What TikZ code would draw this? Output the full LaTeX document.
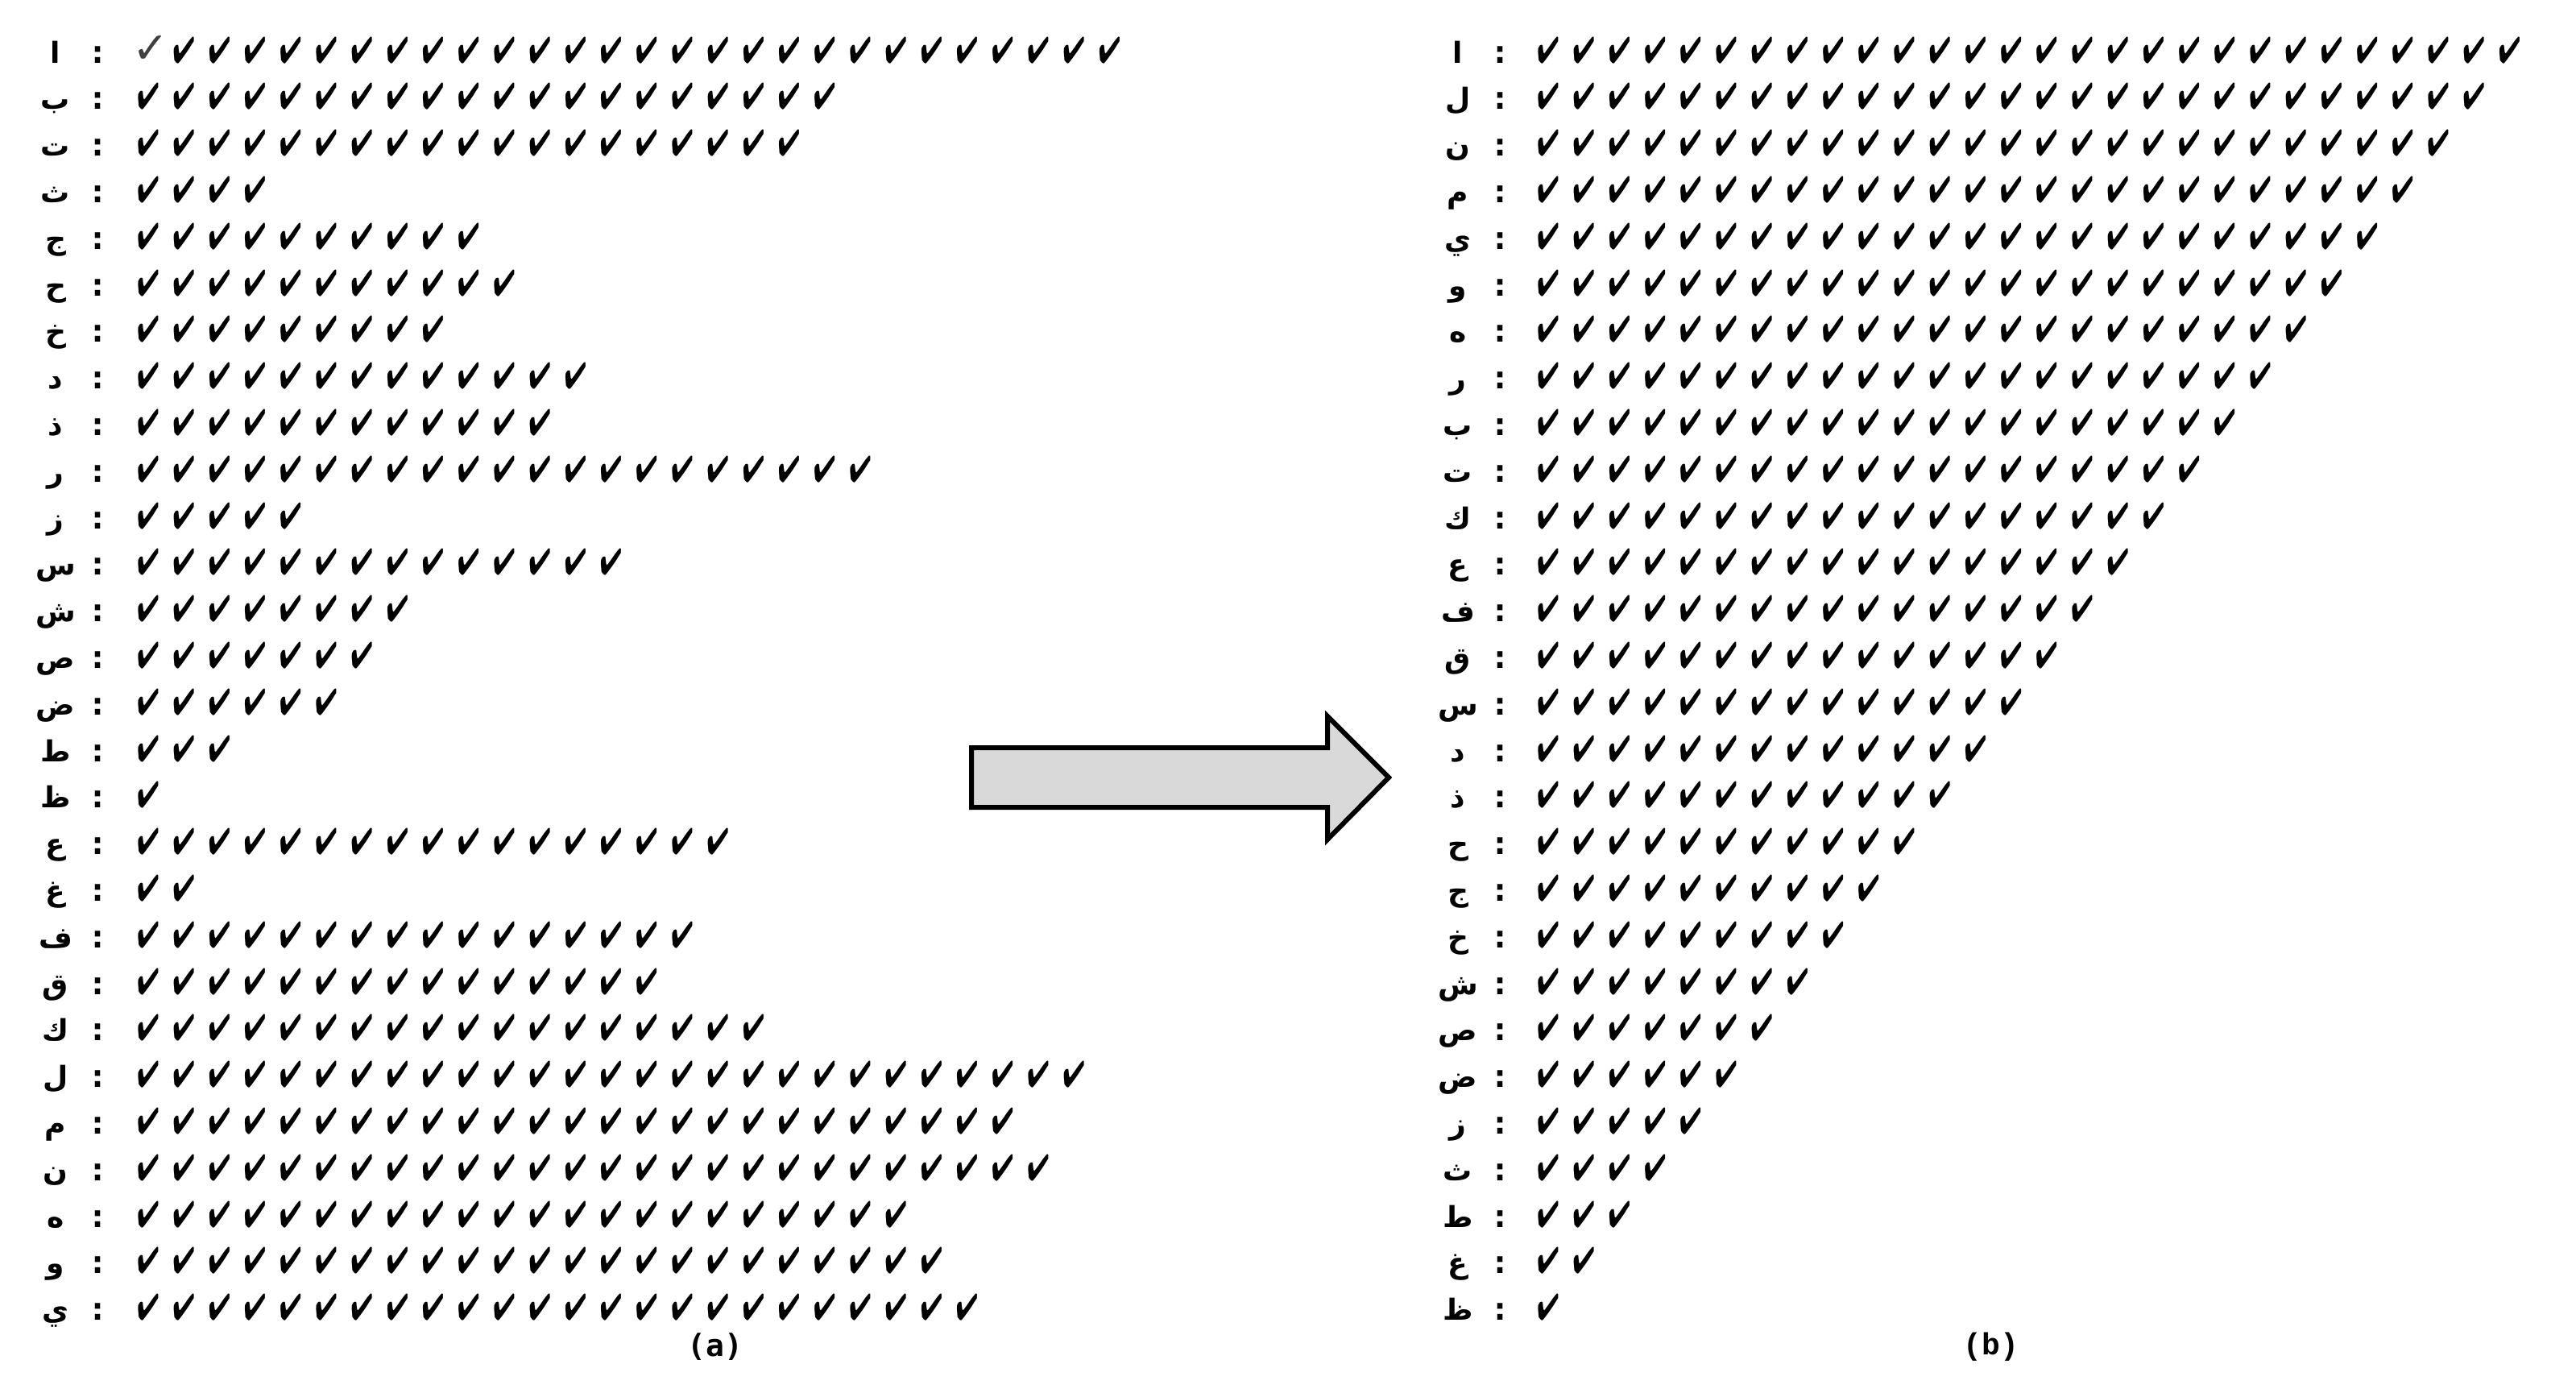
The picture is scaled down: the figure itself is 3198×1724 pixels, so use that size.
\documentclass[tikz,border=0pt]{standalone}
\usepackage{fontspec}
\usepackage{graphicx}
\usepackage{pifont}
\TeXXeTstate=1
\newfontfamily\arabicfont[Script=Arabic]{DejaVu Sans}
\newfontfamily\cmono{Liberation Mono}
\newfontfamily\dmono{DejaVu Sans Mono}
\newfontfamily\dsans{DejaVu Sans}
\newcommand\heavychk{\scalebox{0.7}[1]{\ding{52}}}
\tikzset{
  letter/.style={anchor=base,inner sep=0pt,font=\fontsize{18}{18}\selectfont\arabicfont\bfseries},
  colon/.style={anchor=base,inner sep=0pt,font=\fontsize{20}{20}\selectfont\dmono\bfseries},
  chk/.style={anchor=base,inner sep=0pt,font=\fontsize{23}{23}\selectfont},
  thinchk/.style={anchor=base,inner sep=0pt,text=black!75,font=\fontsize{27}{27}\selectfont\dsans},
  captext/.style={anchor=center,inner sep=0pt},
  bigarrow/.style={draw=black,line width=3pt,fill=black!15,line join=miter}
}
\begin{document}
\begin{tikzpicture}[x=0.5pt,y=-0.5pt]
\useasboundingbox (0,0) rectangle (3198,1724);
% panel (a)
\foreach \l/\n [count=\i] in {ا/28,ب/20,ت/19,ث/4,ج/10,ح/11,خ/9,د/13,ذ/12,ر/21,ز/5,س/14,ش/8,ص/7,ض/6,ط/3,ظ/1,ع/17,غ/2,ف/16,ق/15,ك/18,ل/27,م/25,ن/26,ه/22,و/23,ي/24}{
  \pgfmathsetmacro\yy{78+(\i-1)*57.8}
  \node[letter] (la\i) at (69,\yy) {\beginR\l\endR};
  \node[colon] (ca\i) at (122,\yy) {:};
  \foreach \j in {1,...,\n}{
    \ifnum\i=1\ifnum\j=1
      \node[thinchk] (ka\i-\j) at (187,\yy) {✓};
    \else
      \node[chk] (ka\i-\j) at ({184+(\j-1)*44.2},\yy) {\heavychk};
    \fi\else
      \node[chk] (ka\i-\j) at ({184+(\j-1)*44.2},\yy) {\heavychk};
    \fi
  }
}
% panel (b)
\foreach \l [count=\i] in {ا,ل,ن,م,ي,و,ه,ر,ب,ت,ك,ع,ف,ق,س,د,ذ,ح,ج,خ,ش,ص,ض,ز,ث,ط,غ,ظ}{
  \pgfmathsetmacro\yy{78+(\i-1)*57.8}
  \pgfmathtruncatemacro\n{29-\i}
  \node[letter] (lb\i) at (1810,\yy) {\beginR\l\endR};
  \node[colon] (cb\i) at (1863,\yy) {:};
  \foreach \j in {1,...,\n}{
    \node[chk] (kb\i-\j) at ({1922+(\j-1)*44.2},\yy) {\heavychk};
  }
}
% captions
\node[captext,font=\fontsize{19}{19}\selectfont\dmono\bfseries] (capa) at (888,1672) {(a)};
\node[captext,font=\fontsize{19}{19}\selectfont\cmono\bfseries] (capb) at (2472,1672) {(b)};
% arrow
\draw[bigarrow] (1206,928) -- (1648,928) -- (1648,889) -- (1724,965) -- (1648,1042) -- (1648,1002) -- (1206,1002) -- cycle;
\end{tikzpicture}
\end{document}
